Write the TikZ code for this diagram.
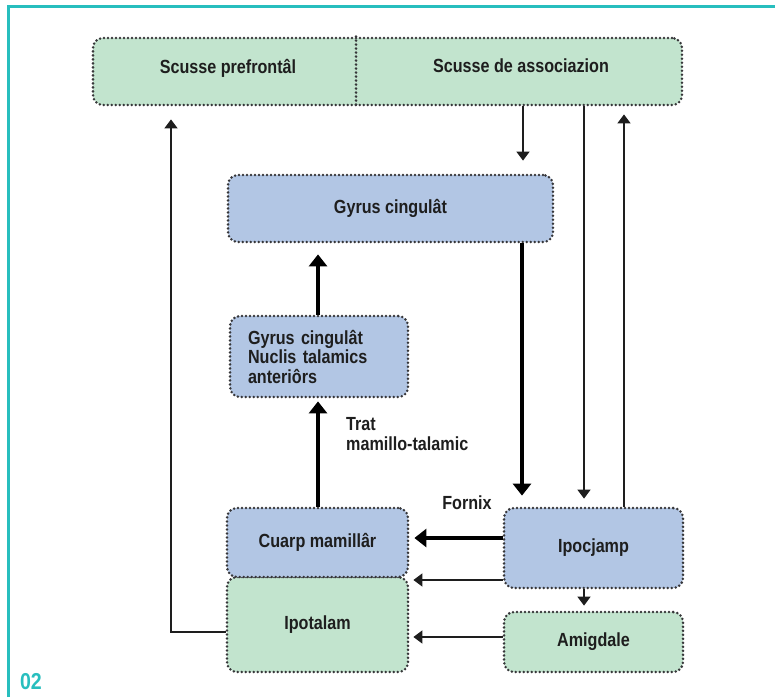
\documentclass[tikz,border=0pt]{standalone}
\usepackage{fontspec}
\setmainfont{Liberation Sans}[FakeStretch=0.85]
\usetikzlibrary{arrows.meta}
\definecolor{tealc}{RGB}{40,190,190}
\definecolor{boxgreen}{RGB}{194,228,206}
\definecolor{boxblue}{RGB}{178,198,228}
\definecolor{dotc}{RGB}{55,55,58}
\definecolor{txt}{RGB}{30,30,30}
\tikzset{
  dotline/.style={draw=dotc, line width=2.8pt, dash pattern=on 0pt off 4pt, line cap=round},
  box/.style={dotline, rounded corners=10pt, minimum width=#1, inner sep=0pt, text=txt,
    font=\bfseries\fontsize{19}{19.5}\selectfont},
  gbox/.style={box=#1, fill=boxgreen},
  bbox/.style={box=#1, fill=boxblue},
  lab/.style={text=txt, font=\bfseries\fontsize{19}{20.5}\selectfont, align=left, inner sep=0pt},
  thinarr/.style={draw=txt, line width=1.6pt, -{Triangle[width=13pt,length=9pt]}},
  thickarr/.style={draw=black, line width=4.5pt, -{Triangle[width=18pt,length=12pt]}},
}
\begin{document}
\begin{tikzpicture}[x=1pt,y=-1pt]
\useasboundingbox (0,0) rectangle (775,697);
\fill[white] (0,0) rectangle (775,697);
% frame
\draw[tealc, line width=3pt] (8,697) -- (8,6) -- (775,6);
\node[text=tealc, font=\bfseries\fontsize{23}{23}\selectfont, inner sep=0pt] (num) at (31,682) {02};
% boxes
\node[gbox=589pt, minimum height=67pt] (top) at (387.5,71.5) {};
\node[lab] (pf) at (228,68) {Scusse prefrontâl};
\node[lab] (as) at (521,66) {Scusse de associazion};
\draw[dotline] (top.north -| 356,0) -- (top.south -| 356,0);
\node[bbox=325pt, minimum height=67pt] (gc) at (390.5,208.5) {Gyrus cingulât};
\node[bbox=178pt, minimum height=81pt, text width=142pt, align=left, inner xsep=18pt] (nuc) at (319,356.5)
  {Gyrus cingulât\\Nuclis talamics\\anteriôrs};
\node[gbox=181pt, minimum height=95pt] (ipot) at (317.5,624.5) {Ipotalam};
\node[bbox=181pt, minimum height=69pt] (cm) at (317.5,542.5) {\raisebox{4pt}{Cuarp mamillâr}};
\node[bbox=179pt, minimum height=80pt] (ipoc) at (593.5,548) {\raisebox{3pt}{Ipocjamp}};
\node[gbox=179pt, minimum height=60pt] (amig) at (593.5,642) {\raisebox{4pt}{Amigdale}};
% labels
\node[lab, anchor=west] (trat) at (346,434) {Trat\\mamillo-talamic};
\node[lab] (fornix) at (467,503) {Fornix};
% connectors
\draw[thinarr, shorten >=13pt] (ipot.west |- 0,632) -- (171,632) -- (top.south -| 171,0);
\draw[thinarr, shorten >=13pt] (top.south -| 523,0) -- (gc.north -| 523,0);
\draw[thinarr, shorten >=8pt] (top.south -| 584,0) -- (ipoc.north -| 584,0);
\draw[thinarr, shorten >=8pt] (ipoc.north -| 624,0) -- (top.south -| 624,0);
\draw[thickarr, shorten >=11pt] (gc.south -| 522,0) -- (ipoc.north -| 522,0);
\draw[thickarr, shorten >=11pt] (nuc.north -| 318,0) -- (gc.south -| 318,0);
\draw[thickarr, shorten >=3pt] (cm.north -| 318,0) -- (nuc.south -| 318,0);
\draw[thickarr, shorten >=5pt] (ipoc.west |- 0,538) -- (cm.east |- 0,538);
\draw[thinarr, shorten >=4pt] (ipoc.west |- 0,580) -- (cm.east |- 0,580);
\draw[thinarr, shorten >=5pt] (ipoc.south -| 584,0) -- (amig.north -| 584,0);
\draw[thinarr, shorten >=4pt] (amig.west |- 0,637) -- (ipot.east |- 0,637);
\end{tikzpicture}
\end{document}
